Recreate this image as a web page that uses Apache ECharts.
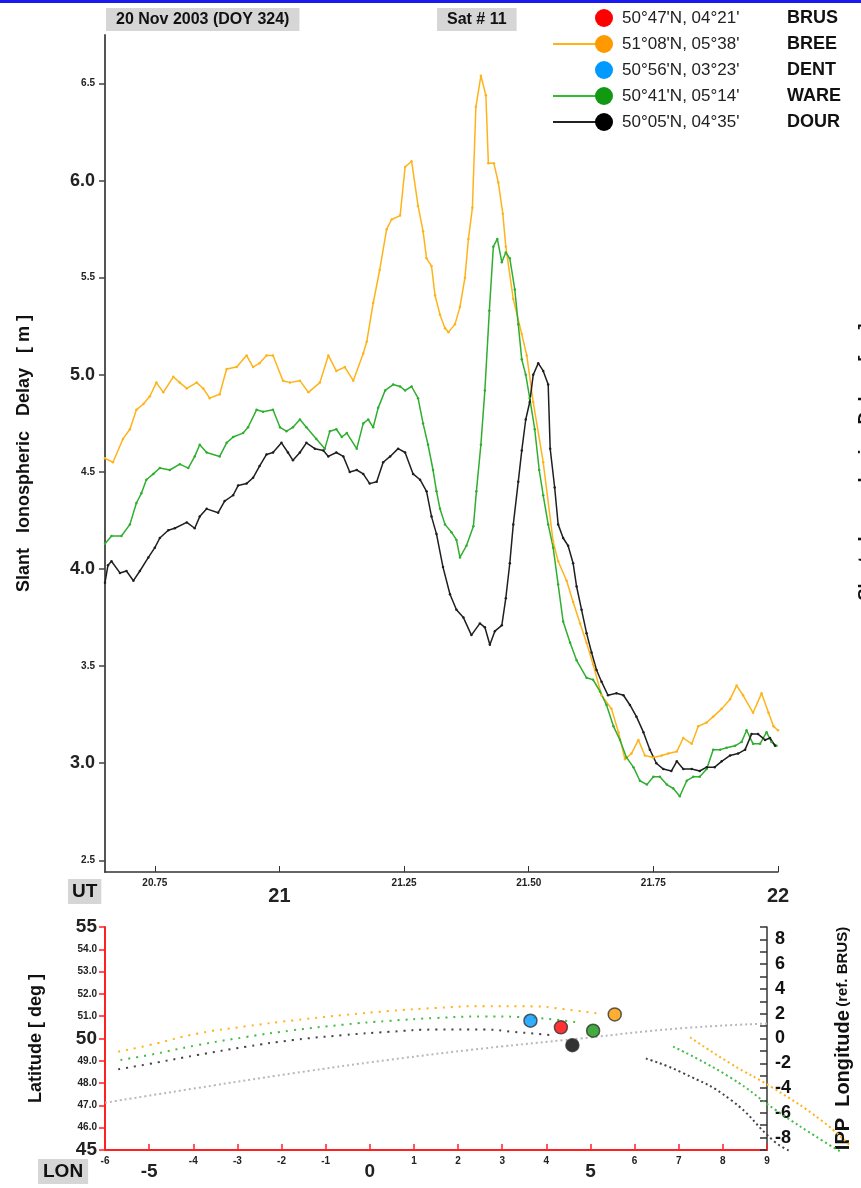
<!DOCTYPE html>
<html>
<head>
<meta charset="utf-8">
<script src="https://cdn.jsdelivr.net/npm/echarts@6/dist/echarts.min.js"></script>
<style>
  html, body { margin: 0; padding: 0; background: #fff; }
  #chart { width: 861px; height: 1188px; }
</style>
</head>
<body>
<div id="chart"></div>
<script>
// ---- slant delay, 20 Nov 2003, sat 11 ----
const utTicks = [20.75, 21, 21.25, 21.5, 21.75, 22];
const delayTicks = [2.5, 3, 3.5, 4, 4.5, 5, 5.5, 6, 6.5];

const breeT = [20.65,20.666,20.686,20.70,20.713,20.727,20.74,20.753,20.767,20.787,20.80,20.814,20.834,20.847,20.86,20.88,20.894,20.914,20.934,20.947,20.96,20.974,20.987,21.007,21.021,21.041,21.058,21.081,21.098,21.114,21.131,21.148,21.168,21.175,21.188,21.201,21.215,21.225,21.242,21.252,21.265,21.278,21.288,21.295,21.305,21.312,21.322,21.332,21.339,21.352,21.362,21.372,21.379,21.387,21.394,21.404,21.414,21.419,21.43,21.439,21.448,21.454,21.469,21.486,21.496,21.509,21.529,21.549,21.559,21.576,21.589,21.603,21.616,21.629,21.646,21.666,21.68,21.693,21.706,21.72,21.733,21.75,21.767,21.78,21.797,21.81,21.827,21.84,21.857,21.87,21.887,21.904,21.917,21.93,21.95,21.967,21.981,21.991,22.0];
const breeV = [4.57,4.55,4.67,4.72,4.82,4.85,4.89,4.96,4.91,4.99,4.96,4.93,4.96,4.93,4.88,4.90,5.03,5.04,5.10,5.04,5.06,5.10,5.10,4.97,4.96,4.97,4.91,4.96,5.10,5.02,5.04,4.97,5.11,5.17,5.37,5.54,5.75,5.80,5.82,6.07,6.10,5.87,5.74,5.60,5.56,5.41,5.31,5.24,5.22,5.26,5.35,5.50,5.70,5.86,6.38,6.54,6.44,6.09,6.09,5.99,5.83,5.66,5.39,5.21,5.10,4.86,4.55,4.14,4.04,3.94,3.83,3.72,3.62,3.51,3.35,3.28,3.16,3.02,3.05,3.12,3.04,3.03,3.04,3.05,3.06,3.13,3.10,3.19,3.21,3.24,3.28,3.33,3.40,3.35,3.26,3.36,3.26,3.19,3.17];

const wareT = [20.65,20.663,20.683,20.70,20.713,20.723,20.733,20.747,20.76,20.78,20.80,20.817,20.83,20.84,20.854,20.88,20.894,20.907,20.927,20.937,20.954,20.967,20.987,21.001,21.014,21.027,21.041,21.054,21.074,21.091,21.101,21.114,21.125,21.135,21.155,21.168,21.178,21.188,21.198,21.212,21.228,21.242,21.252,21.265,21.278,21.288,21.298,21.308,21.315,21.322,21.332,21.345,21.355,21.362,21.375,21.389,21.395,21.404,21.412,21.421,21.429,21.437,21.446,21.454,21.462,21.472,21.479,21.486,21.494,21.502,21.512,21.521,21.529,21.539,21.549,21.559,21.569,21.583,21.596,21.616,21.629,21.643,21.656,21.67,21.683,21.696,21.71,21.723,21.737,21.75,21.763,21.777,21.79,21.803,21.817,21.83,21.843,21.857,21.87,21.884,21.897,21.914,21.927,21.937,21.95,21.964,21.977,21.987,21.997];
const wareV = [4.13,4.17,4.17,4.23,4.34,4.39,4.46,4.49,4.52,4.51,4.54,4.52,4.58,4.64,4.60,4.58,4.65,4.68,4.70,4.73,4.82,4.81,4.82,4.73,4.71,4.73,4.77,4.73,4.67,4.62,4.71,4.72,4.68,4.70,4.62,4.75,4.77,4.73,4.83,4.92,4.95,4.94,4.92,4.94,4.88,4.75,4.64,4.51,4.40,4.31,4.23,4.19,4.15,4.06,4.12,4.22,4.40,4.64,4.92,5.33,5.66,5.70,5.58,5.63,5.60,5.44,5.26,5.08,5.00,4.88,4.72,4.51,4.38,4.23,4.11,3.92,3.73,3.62,3.53,3.44,3.43,3.37,3.30,3.19,3.12,3.03,2.98,2.91,2.89,2.93,2.93,2.89,2.87,2.83,2.91,2.93,2.93,2.97,3.07,3.07,3.08,3.09,3.11,3.17,3.10,3.10,3.16,3.11,3.09];

const dourT = [20.65,20.656,20.663,20.68,20.693,20.707,20.72,20.737,20.75,20.76,20.777,20.79,20.814,20.83,20.84,20.854,20.877,20.89,20.907,20.917,20.934,20.947,20.96,20.974,20.987,21.004,21.017,21.027,21.041,21.054,21.071,21.088,21.098,21.114,21.128,21.141,21.155,21.168,21.181,21.195,21.208,21.222,21.238,21.252,21.268,21.282,21.295,21.305,21.315,21.328,21.342,21.355,21.369,21.385,21.402,21.412,21.422,21.432,21.446,21.454,21.462,21.469,21.479,21.486,21.494,21.502,21.509,21.519,21.529,21.539,21.543,21.552,21.559,21.569,21.579,21.589,21.596,21.606,21.616,21.626,21.636,21.646,21.659,21.676,21.69,21.703,21.716,21.73,21.743,21.756,21.77,21.786,21.797,21.81,21.827,21.843,21.857,21.873,21.887,21.904,21.92,21.934,21.947,21.96,21.974,21.984,21.994];
const dourV = [3.93,4.02,4.04,3.98,3.99,3.94,3.99,4.06,4.11,4.16,4.20,4.21,4.24,4.21,4.27,4.31,4.29,4.35,4.38,4.43,4.44,4.47,4.53,4.59,4.60,4.65,4.60,4.56,4.60,4.65,4.62,4.61,4.58,4.60,4.58,4.50,4.51,4.49,4.44,4.45,4.55,4.58,4.62,4.60,4.49,4.46,4.40,4.27,4.18,4.01,3.87,3.79,3.75,3.66,3.72,3.70,3.61,3.68,3.71,3.85,4.03,4.23,4.45,4.61,4.77,4.86,5.00,5.06,5.02,4.95,4.62,4.42,4.23,4.16,4.12,4.03,3.91,3.79,3.67,3.57,3.48,3.42,3.35,3.36,3.35,3.30,3.24,3.16,3.07,3.00,2.97,2.96,3.01,2.97,2.97,2.96,2.98,2.98,3.01,3.04,3.05,3.07,3.15,3.15,3.12,3.13,3.09];

// ---- IPP map ----
const breeTrackLon = [-5.7,-5.0,-3.9,-2.8,-1.74,-0.6,0.43,1.5,2.6,3.69,4.34,5.2];
const breeTrackLat = [49.41,49.70,50.22,50.55,50.81,51.05,51.23,51.37,51.45,51.44,51.33,51.11];
const wareTrackLon = [-5.65,-5.0,-3.91,-2.8,-1.74,-0.6,0.43,1.5,2.6,3.69,4.77];
const wareTrackLat = [49.04,49.26,49.70,50.07,50.37,50.62,50.79,50.92,50.99,50.93,50.70];
const dourTrackLon = [-5.7,-5.0,-3.91,-2.8,-1.74,-0.6,0.43,1.51,2.6,3.25,4.12];
const dourTrackLat = [48.62,48.86,49.26,49.63,49.93,50.15,50.30,50.40,50.40,50.30,50.15];
const brusTrackLon = [-6,-3.91,-1.74,0.43,2.6,4.77,6.94,9];
const brusTrackLat = [47.12,47.78,48.44,49.04,49.56,50.0,50.44,50.67];

// IPP longitude tracks, they run past the right edge of the map frame
const breeLonLon = [7.10,8.01,8.95,10.05,10.68];
const breeLonLat = [50.05,48.87,47.79,46.31,45.2];
const wareLonLon = [6.72,8.01,9.04,10.07,10.45];
const wareLonLat = [49.64,48.24,46.76,45.41,44.95];
const dourLonLon = [6.11,6.92,8.01,9.0,9.35];
const dourLonLat = [49.1,48.47,47.25,45.36,44.95];

const stationNames = ['BRUS', 'BREE', 'DENT', 'WARE', 'DOUR'];
const stationCoordText = ["50°47'N, 04°21'", "51°08'N, 05°38'", "50°56'N, 03°23'", "50°41'N, 05°14'", "50°05'N, 04°35'"];
const stationLon = [4.33, 5.55, 3.64, 5.06, 4.59];
const stationLat = [50.50, 51.08, 50.80, 50.35, 49.70];
const stationColors = ['#ff0000', '#ff9900', '#0099ff', '#119911', '#000000'];
const lineColors = [null, '#ffb31a', null, '#33bb33', '#222222'];

function zip(a, b) { return a.map(function (x, i) { return [x, b[i]]; }); }

const font = "'Liberation Sans', Arial, sans-serif";

let chart = echarts.init(document.getElementById('chart'), null, { renderer: 'canvas' });

function delaySeries(name, t, v, color) {
  return {
    name: name, type: 'line', xAxisIndex: 0, yAxisIndex: 0,
    data: zip(t, v), symbol: 'circle', symbolSize: 2.5, showSymbol: true,
    lineStyle: { color: color, width: 1.5 }, itemStyle: { color: color },
    animation: false
  };
}
function trackSeries(lon, lat, color, dash, axisIdx) {
  return {
    type: 'line', xAxisIndex: axisIdx, yAxisIndex: axisIdx === 1 ? 1 : 3, data: zip(lon, lat),
    showSymbol: false, smooth: true, clip: false,
    lineStyle: { color: color, width: 2, type: dash }, animation: false
  };
}

// legend made of graphics
let legendItems = [];
stationNames.forEach(function (n, i) {
  let y = 18 + i * 26;
  if (lineColors[i]) {
    legendItems.push({ type: 'line', shape: { x1: 553, y1: y, x2: 600, y2: y },
      style: { stroke: lineColors[i], lineWidth: 2 } });
  }
  legendItems.push({ type: 'circle', shape: { cx: 604, cy: y, r: 9 }, style: { fill: stationColors[i] } });
  legendItems.push({ type: 'text', x: 622, y: y, style: { text: stationCoordText[i], font: '17px ' + font,
    fill: '#222', verticalAlign: 'middle' } });
  legendItems.push({ type: 'text', x: 787, y: y, style: { text: n, font: 'bold 18px ' + font,
    fill: '#111', verticalAlign: 'middle' } });
});

let option = {
  backgroundColor: '#fff',
  animation: false,
  textStyle: { fontFamily: font },
  grid: [
    { left: 105, right: 83, top: 35, bottom: 316 },
    { left: 105, right: 86, top: 927, bottom: 38 },
    // same scale as the map grid, only wider so the tracks can run past x = 9
    { left: 105, right: 11, top: 927, bottom: 38 }
  ],
  xAxis: [
    {
      type: 'value', gridIndex: 0, min: 20.65, max: 22,
      axisLine: { onZero: false, lineStyle: { color: '#333', width: 1.5 } },
      axisTick: { inside: true, length: 6, customValues: utTicks, lineStyle: { color: '#333' } },
      splitLine: { show: false },
      axisLabel: {
        customValues: utTicks, margin: 6, color: '#222',
        formatter: function (v) { return v % 1 === 0 ? '{b|' + v + '}' : '{s|' + v.toFixed(2) + '}'; },
        rich: {
          b: { fontSize: 20, fontWeight: 'bold', fontFamily: font, padding: [8, 0, 0, 0] },
          s: { fontSize: 10, fontWeight: 'bold', fontFamily: font }
        }
      }
    },
    {
      type: 'value', gridIndex: 1, min: -6, max: 9, interval: 1,
      axisLine: { onZero: false, lineStyle: { color: '#ff2020', width: 2 } },
      axisTick: { inside: true, length: 6, lineStyle: { color: '#ff2020', width: 1.5 } },
      splitLine: { show: false },
      axisLabel: {
        margin: 6, color: '#222',
        formatter: function (v) { return v % 5 === 0 && v !== -6 ? '{b|' + v + '}' : '{s|' + v + '}'; },
        rich: {
          b: { fontSize: 19, fontWeight: 'bold', fontFamily: font, padding: [6, 0, 0, 0] },
          s: { fontSize: 10, fontWeight: 'bold', fontFamily: font }
        }
      }
    },
    { type: 'value', gridIndex: 2, min: -6, max: 10.68, show: false }
  ],
  yAxis: [
    {
      type: 'value', gridIndex: 0, min: 2.44, max: 6.75,
      name: 'Slant   Ionospheric   Delay   [ m ]', nameLocation: 'middle', nameGap: 72, nameRotate: 90,
      nameTextStyle: { fontSize: 18, fontWeight: 'bold', color: '#111', fontFamily: font },
      axisLine: { onZero: false, lineStyle: { color: '#555', width: 2 } },
      axisTick: { length: 6, customValues: delayTicks, lineStyle: { color: '#444', width: 1.5 } },
      splitLine: { show: false },
      axisLabel: {
        customValues: delayTicks, margin: 10, color: '#222',
        formatter: function (v) { return v % 1 === 0 ? '{b|' + v.toFixed(1) + '}' : '{s|' + v.toFixed(1) + '}'; },
        rich: {
          b: { fontSize: 18, fontWeight: 'bold', fontFamily: font },
          s: { fontSize: 10, fontWeight: 'bold', fontFamily: font }
        }
      }
    },
    {
      type: 'value', gridIndex: 1, min: 45, max: 55, interval: 1,
      name: 'Latitude [ deg ]', nameLocation: 'middle', nameGap: 60, nameRotate: 90,
      nameTextStyle: { fontSize: 18, fontWeight: 'bold', color: '#111', fontFamily: font },
      axisLine: { onZero: false, lineStyle: { color: '#ff2020', width: 2 } },
      axisTick: { length: 6, lineStyle: { color: '#ff2020', width: 1.5 } },
      splitLine: { show: false },
      axisLabel: {
        margin: 8, color: '#222',
        formatter: function (v) { return v % 5 === 0 ? '{b|' + v + '}' : '{s|' + v.toFixed(1) + '}'; },
        rich: {
          b: { fontSize: 19, fontWeight: 'bold', fontFamily: font },
          s: { fontSize: 10, fontWeight: 'bold', fontFamily: font }
        }
      }
    },
    {
      type: 'value', gridIndex: 1, position: 'right', min: -9, max: 9, interval: 1,
      name: '{a|IPP  Longitude} {c|(ref. BRUS)}', nameLocation: 'middle', nameGap: 66, nameRotate: 90,
      nameTextStyle: {
        color: '#111',
        rich: {
          a: { fontSize: 20, fontWeight: 'bold', fontFamily: font },
          c: { fontSize: 15, fontWeight: 'bold', fontFamily: font }
        }
      },
      axisLine: { show: true, onZero: false, lineStyle: { color: '#333', width: 1.5 } },
      axisTick: { inside: true, length: 7, lineStyle: { color: '#333', width: 1.5 } },
      splitLine: { show: false },
      axisLabel: {
        margin: 8, color: '#111', fontSize: 18, fontWeight: 'bold', fontFamily: font,
        formatter: function (v) { return (v % 2 === 0 && Math.abs(v) <= 8) ? String(v) : ''; }
      }
    },
    { type: 'value', gridIndex: 2, min: 45, max: 55, show: false }
  ],
  graphic: [
    { type: 'rect', shape: { x: 0, y: 0, width: 861, height: 3 }, style: { fill: '#1a1aee' } },
    { type: 'text', x: 106, y: 8, style: { text: '20 Nov 2003 (DOY 324)', font: 'bold 16px ' + font,
      fill: '#111', backgroundColor: '#d6d6d6', padding: [4, 10, 3, 10] } },
    { type: 'text', x: 437, y: 8, style: { text: 'Sat # 11', font: 'bold 16px ' + font,
      fill: '#111', backgroundColor: '#d6d6d6', padding: [4, 10, 3, 10] } },
    { type: 'text', x: 68, y: 879, style: { text: 'UT', font: 'bold 19px ' + font,
      fill: '#111', backgroundColor: '#d6d6d6', padding: [3, 4, 3, 4] } },
    { type: 'text', x: 38, y: 1159, style: { text: 'LON', font: 'bold 19px ' + font,
      fill: '#111', backgroundColor: '#d6d6d6', padding: [3, 5, 3, 5] } },
    { type: 'text', x: 866, y: 462, rotation: Math.PI / 2, style: { text: 'Slant   Ionospheric   Delay   [ m ]',
      font: 'bold 18px ' + font, fill: '#111', align: 'center', verticalAlign: 'middle' } },
    { type: 'group', children: legendItems }
  ],
  series: [
    delaySeries('BREE', breeT, breeV, '#ffb31a'),
    delaySeries('WARE', wareT, wareV, '#2fae2f'),
    delaySeries('DOUR', dourT, dourV, '#1f1f1f'),
    trackSeries(brusTrackLon, brusTrackLat, '#b8b8b8', [2, 3], 1),
    trackSeries(breeTrackLon, breeTrackLat, '#ffb31a', [2, 6], 1),
    trackSeries(wareTrackLon, wareTrackLat, '#44bb44', [2, 6], 1),
    trackSeries(dourTrackLon, dourTrackLat, '#444444', [2, 6], 1),
    trackSeries(breeLonLon, breeLonLat, '#ffb31a', [2, 3], 2),
    trackSeries(wareLonLon, wareLonLat, '#44bb44', [2, 3], 2),
    trackSeries(dourLonLon, dourLonLat, '#444444', [2, 3], 2),
    {
      type: 'scatter', xAxisIndex: 1, yAxisIndex: 1, symbolSize: 13, z: 5,
      data: stationNames.map(function (n, i) {
        return { name: n, value: [stationLon[i], stationLat[i]], itemStyle: { color: stationColors[i] } };
      }),
      itemStyle: { borderColor: '#333', borderWidth: 1.5 },
      animation: false
    }
  ]
};

chart.setOption(option);
</script>
</body>
</html>
